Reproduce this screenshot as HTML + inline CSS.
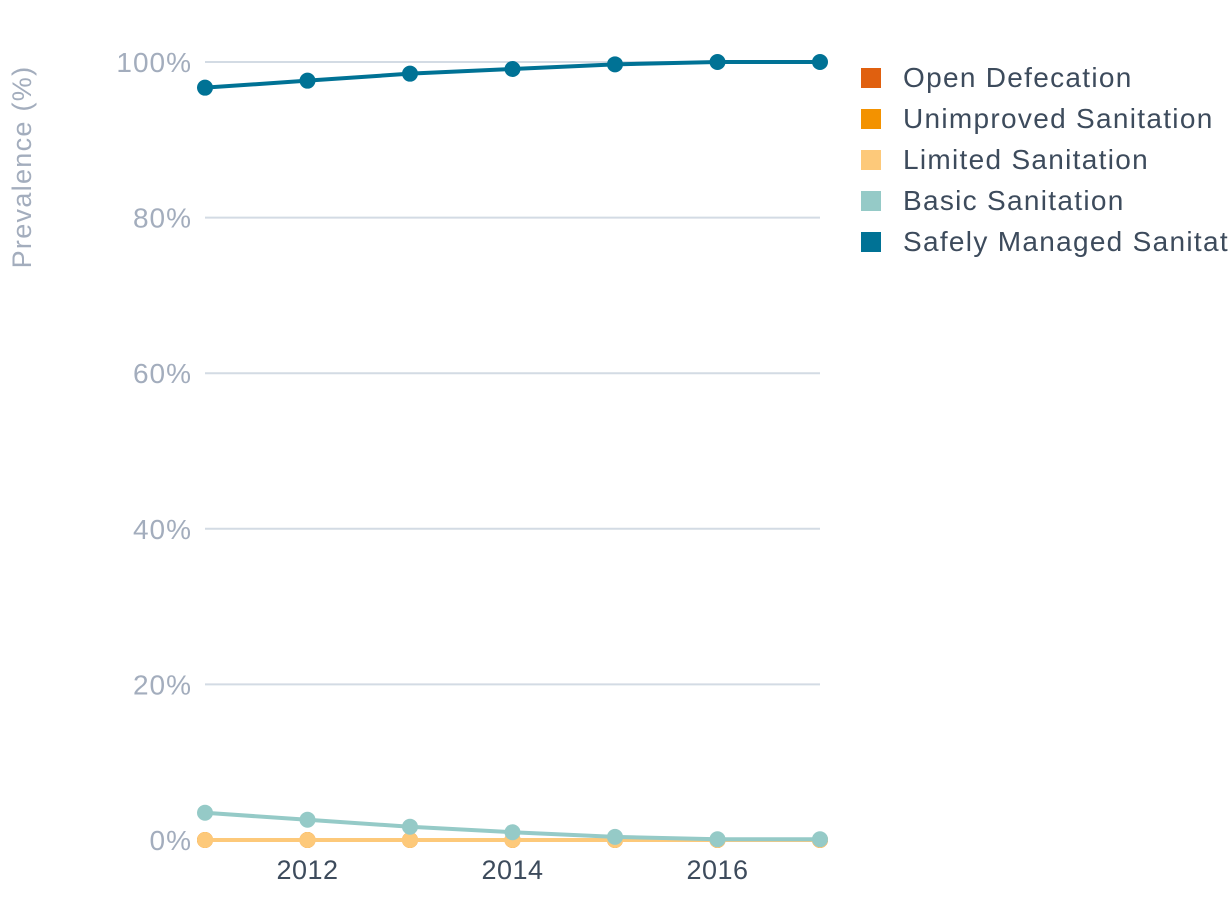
<!DOCTYPE html>
<html><head><meta charset="utf-8"><style>
html,body{margin:0;padding:0;background:#fff;width:1230px;height:902px;overflow:hidden;font-family:"Liberation Sans",sans-serif;}
</style></head><body>
<svg id="chart" width="1230" height="902" xmlns="http://www.w3.org/2000/svg"></svg>
<script>
const years = [2011, 2012, 2013, 2014, 2015, 2016, 2017];
const openDef = [0, 0, 0, 0, 0, 0, 0];
const unimproved = [0, 0, 0, 0, 0, 0, 0];
const limited = [0, 0, 0, 0, 0, 0, 0];
const basic = [3.5, 2.6, 1.7, 1.0, 0.4, 0.1, 0.1];
const safely = [96.7, 97.6, 98.5, 99.1, 99.7, 100, 100];
const yTicks = [0, 20, 40, 60, 80, 100];
const xTicks = [2012, 2014, 2016];
const seriesNames = ["Open Defecation", "Unimproved Sanitation", "Limited Sanitation", "Basic Sanitation", "Safely Managed Sanitation"];

const svg = document.getElementById('chart');
const NS = 'http://www.w3.org/2000/svg';
const x = v => 205 + (v - 2011) * (615 / 6);
const y = v => 840 - v * 7.78;
function mk(tag, attrs, parent) {
  const e = document.createElementNS(NS, tag);
  for (const k in attrs) e.setAttribute(k, attrs[k]);
  (parent || svg).appendChild(e);
  return e;
}
yTicks.forEach(t => {
  if (t > 0) {
    const g = mk('line', {x1: 205, x2: 820, y1: y(t), y2: y(t), stroke: '#d3dbe4', 'stroke-width': 2});
    
    
  }
  const l = mk('text', {x: 192, y: y(t) + 10, 'text-anchor': 'end', 'font-size': 28, 'letter-spacing': 1, fill: '#a3adbd'});
  l.textContent = t + '%';
  
  
});
xTicks.forEach(t => {
  const l = mk('text', {x: x(t), y: 879, 'text-anchor': 'middle', 'font-size': 27, 'letter-spacing': 0.5, fill: '#3d4b5c'});
  l.textContent = t;
  
  
});
const yt = mk('text', {x: 0, y: 0, transform: 'translate(31,167) rotate(-90)', 'text-anchor': 'middle', 'font-size': 27, 'letter-spacing': 1.3, fill: '#a3adbd'});
yt.textContent = 'Prevalence (%)';



const series = [
  [openDef, '#e0600f'], [unimproved, '#f39200'], [limited, '#fdc97a'], [basic, '#95cac7'], [safely, '#007295']
];
series.forEach(([vals, col], i) => {
  const g = mk('g', {});
  
  
  mk('polyline', {points: vals.map((v, j) => x(years[j]) + ',' + y(v)).join(' '), fill: 'none', stroke: col, 'stroke-width': 4}, g);
  vals.forEach((v, j) => {
    const c = mk('circle', {cx: x(years[j]), cy: y(v), r: 8, fill: col}, g);
    
    
  });
});
seriesNames.forEach((n, i) => {
  const g = mk('g', {});
  
  
  const yy = 77 + i * 41;
  mk('rect', {x: 861, y: yy - 9, width: 20, height: 20, fill: series[i][1]}, g);
  const t = mk('text', {x: 903, y: yy + 10, 'font-size': 28, 'letter-spacing': 1.3, fill: '#3d4b5c'}, g);
  t.textContent = n;
});
</script>
</body></html>
